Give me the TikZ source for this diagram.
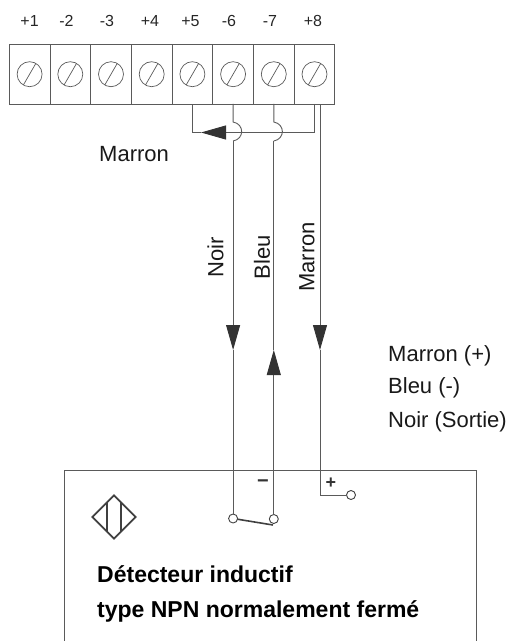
\documentclass[tikz,border=0pt]{standalone}
\usepackage{fontspec}
\setmainfont{Liberation Sans}
\usetikzlibrary{arrows.meta,shapes.geometric}
\definecolor{wirecol}{HTML}{5A5A5A}
\tikzset{
	wire/.style={draw=wirecol,line width=0.9pt},
	thinwire/.style={draw=wirecol,line width=0.7pt},
	flow/.style={wire,-{Triangle[length=25pt,width=14pt,color=black!80]}},
	cell/.style={draw=wirecol,line width=0.9pt,minimum width=40.7pt,minimum height=59.5pt,inner sep=0pt,outer sep=0pt},
	screw/.style={circle,draw=wirecol,line width=0.7pt,minimum size=25pt,inner sep=0pt,outer sep=0pt},
	contact/.style={circle,draw=black!75,line width=0.9pt,minimum size=9pt,inner sep=0pt,outer sep=0pt,fill=white},
	num/.style={font=\fontsize{16}{18}\selectfont,text=black!85,anchor=base},
	txt/.style={font=\fontsize{22}{24}\selectfont,text=black!90,inner sep=0pt},
	bold/.style={font=\fontsize{23}{26}\bfseries\selectfont,inner sep=0pt,anchor=base west}
}
\begin{document}
\begin{tikzpicture}[x=1pt,y=-1pt]
		\useasboundingbox (0,0) rectangle (510,641);
		
		%terminal strip
		\node[cell] (t1) at (29.6,74.2) {};
		\node[cell] (t2) at (70.3,74.2) {};
		\node[cell] (t3) at (111,74.2) {};
		\node[cell] (t4) at (151.7,74.2) {};
		\node[cell] (t5) at (192.4,74.2) {};
		\node[cell] (t6) at (233.1,74.2) {};
		\node[cell] (t7) at (273.8,74.2) {};
		\node[cell] (t8) at (314.5,74.2) {};
		
		%screws
		\node[screw] (s1) at (t1) {}; \draw[thinwire] (s1.240) -- (s1.60);
		\node[screw] (s2) at (t2) {}; \draw[thinwire] (s2.240) -- (s2.60);
		\node[screw] (s3) at (t3) {}; \draw[thinwire] (s3.240) -- (s3.60);
		\node[screw] (s4) at (t4) {}; \draw[thinwire] (s4.240) -- (s4.60);
		\node[screw] (s5) at (t5) {}; \draw[thinwire] (s5.240) -- (s5.60);
		\node[screw] (s6) at (t6) {}; \draw[thinwire] (s6.240) -- (s6.60);
		\node[screw] (s7) at (t7) {}; \draw[thinwire] (s7.240) -- (s7.60);
		\node[screw] (s8) at (t8) {}; \draw[thinwire] (s8.240) -- (s8.60);
		
		%indexes
		\node[num] (n1) at (29.6,26) {+1};
		\node[num] (n2) at (66.5,26) {-2};
		\node[num] (n3) at (107,26) {-3};
		\node[num] (n4) at (150,26) {+4};
		\node[num] (n5) at (190.5,26) {+5};
		\node[num] (n6) at (229,26) {-6};
		\node[num] (n7) at (270,26) {-7};
		\node[num] (n8) at (313,26) {+8};
		
		%bridge between +5 and +8
		\coordinate (b5) at (192.4,132.5);
		\coordinate (b8) at (314.5,132.5);
		\coordinate (btip) at (201,132.5);
		\draw[flow] (b8) -- (btip);
		\draw[wire] (t8.south) -- (b8);
		\draw[wire] (btip) -- (b5) -- (t5.south);
		
		%sensor box
		\draw[wire] (64,641) -- (64,470) -- (476.5,470) -- (476.5,641);
		
		%contacts
		\node[contact] (c1) at (233.1,518.5) {};
		\node[contact] (c2) at (273.8,519) {};
		\node[contact] (c3) at (351,495) {};
		\coordinate (c2low) at (273,525);
		
		%black wire
		\coordinate (h6a) at (233.1,122);
		\coordinate (h6b) at (233.1,141);
		\coordinate (tipn) at (233.1,350);
		\draw[wire] (t6.south) -- (h6a) .. controls (244.5,124) and (244.5,139) .. (h6b);
		\draw[flow] (h6b) -- (tipn);
		\draw[wire] (tipn) -- (c1);
		
		%blue wire
		\coordinate (h7a) at (273.8,122);
		\coordinate (h7b) at (273.8,141);
		\coordinate (tipb) at (273.8,350);
		\draw[wire] (t7.south) -- (h7a) .. controls (285.2,124) and (285.2,139) .. (h7b);
		\draw[wire] (h7b) -- (tipb);
		\draw[flow] (c2) -- (tipb);
		
		%brown wire
		\coordinate (m8) at (320,104);
		\coordinate (tipm) at (320,350);
		\coordinate (mlow) at (320,495);
		\draw[flow] (m8) -- (tipm);
		\draw[wire] (tipm) -- (mlow) -- (c3);
		
		%switch
		\draw[draw=black!75,line width=1.6pt] (c1) -- (c2low);
		
		%wire labels
		\node[txt,rotate=90] (lnoir) at (215.5,257) {Noir};
		\node[txt,rotate=90] (lbleu) at (262,257.5) {Bleu};
		\node[txt,rotate=90] (lmarron) at (307,257) {Marron};
		\node[txt,anchor=base west] (lbridge) at (99,161.7) {Marron};
		
		%legend
		\node[txt,anchor=base west] (leg1) at (388,361.5) {Marron (+)};
		\node[txt,anchor=base west] (leg2) at (388,393.5) {Bleu (-)};
		\node[txt,anchor=base west] (leg3) at (388,427) {Noir (Sortie)};
		
		%signs
		\node[font=\fontsize{20}{22}\bfseries\selectfont,inner sep=0pt,text=black!80] (minus) at (263,484) {−};
		\node[font=\fontsize{18}{22}\bfseries\selectfont,inner sep=0pt,text=black!80] (plus) at (331,483) {+};
		
		%symbol
		\node[diamond,draw=black!75,line width=1.8pt,minimum width=44pt,minimum height=44pt,inner sep=0pt] (sym) at (114,517) {};
		\draw[draw=black!75,line width=1.8pt] ([shift={(-7,-14)}]sym.center) -- ([shift={(-7,14)}]sym.center);
		\draw[draw=black!75,line width=1.8pt] ([shift={(7,-14)}]sym.center) -- ([shift={(7,14)}]sym.center);
		
		%name
		\node[bold] (name1) at (97,582) {Détecteur inductif};
		\node[bold] (name2) at (97,617.5) {type NPN normalement fermé};
\end{tikzpicture}
\end{document}
